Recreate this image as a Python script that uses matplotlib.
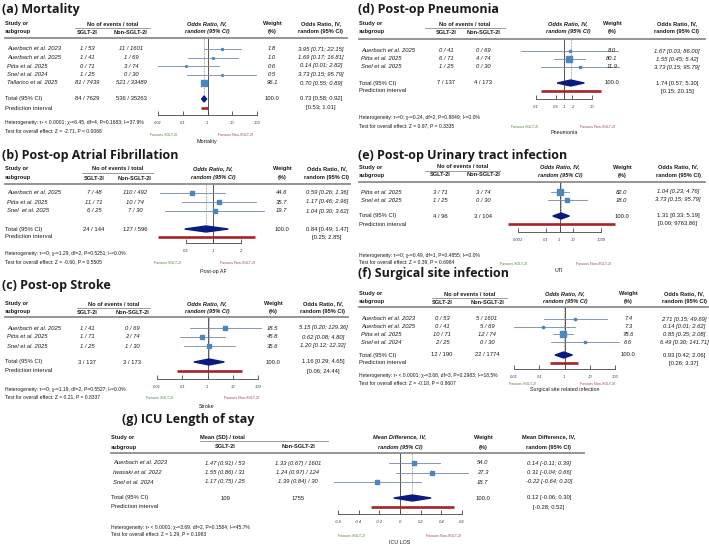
import matplotlib
matplotlib.use("Agg")
import matplotlib.pyplot as plt
from matplotlib.lines import Line2D
from matplotlib.ticker import NullLocator

W, H = 709, 551
FONT = "Liberation Sans"
TFONT = "Open Sans"

# ======================= DATA =======================
# (a) Mortality
a_study = ["Auerbach et al. 2023", "Auerbach et al. 2025", "Pitta et al. 2025", "Snel et al. 2024", "Tallarico et al. 2025"]
a_e1 = [1, 1, 0, 1, 81]
a_n1 = [53, 41, 71, 25, 7439]
a_e2 = [11, 1, 3, 0, 521]
a_n2 = [1601, 69, 74, 30, 33489]
a_w = [1.8, 1.0, 0.6, 0.5, 96.1]
a_or = [3.95, 1.69, 0.14, 3.73, 0.70]
a_lo = [0.71, 0.17, 0.01, 0.15, 0.55]
a_hi = [22.15, 16.81, 2.82, 95.79, 0.89]
a_total = [0.73, 0.58, 0.92]
a_pred = [0.53, 1.01]
a_het = "Heterogeneity: τ² < 0.0001; χ²=6.45, df=4, P=0.1683; I²=37.9%"
a_test = "Test for overall effect: Z = -2.71, P = 0.0068"
a_ticks = [0.01, 0.1, 1, 10, 100]
a_ticklabels = ["0.01", "0.1", "1", "10", "100"]
a_xlabel = "Mortality"

# (b) Post-op Atrial Fibrillation
b_study = ["Auerbach et al. 2025", "Pitta et al. 2025", "Snel  et al. 2025"]
b_e1 = [7, 11, 6]
b_n1 = [48, 71, 25]
b_e2 = [110, 10, 7]
b_n2 = [492, 74, 30]
b_w = [44.6, 35.7, 19.7]
b_or = [0.59, 1.17, 1.04]
b_lo = [0.26, 0.46, 0.30]
b_hi = [1.36, 2.96, 3.62]
b_total = [0.84, 0.49, 1.47]
b_pred = [0.25, 2.85]
b_het = "Heterogeneity: τ²=0; χ²=1.29, df=2, P=0.5251; I²=0.0%"
b_test = "Test for overall effect: Z = -0.60, P = 0.5505"
b_ticks = [0.5, 1, 2]
b_ticklabels = ["0.5", "1", "2"]
b_xlabel = "Post-op AF"

# (c) Post-op Stroke
c_study = ["Auerbach et al. 2025", "Pitta et al. 2025", "Snel et al. 2025"]
c_e1 = [1, 1, 1]
c_n1 = [41, 71, 25]
c_e2 = [0, 2, 1]
c_n2 = [69, 74, 30]
c_w = [18.5, 45.8, 35.6]
c_or = [5.15, 0.62, 1.20]
c_lo = [0.20, 0.08, 0.12]
c_hi = [129.36, 4.80, 12.32]
c_total = [1.16, 0.29, 4.65]
c_pred = [0.06, 24.44]
c_het = "Heterogeneity: τ²=0; χ²=1.19, df=2, P=0.5527; I²=0.0%"
c_test = "Test for overall effect: Z = 0.21, P = 0.8337"
c_ticks = [0.01, 0.1, 1, 10, 100]
c_ticklabels = ["0.01", "0.1", "1", "10", "100"]
c_xlabel = "Stroke"

# (d) Post-op Pneumonia
d_study = ["Auerbach et al. 2025", "Pitta et al. 2025", "Snel et al. 2025"]
d_e1 = [0, 6, 1]
d_n1 = [41, 71, 25]
d_e2 = [0, 4, 0]
d_n2 = [69, 74, 30]
d_w = [8.0, 80.1, 11.9]
d_or = [1.67, 1.55, 3.73]
d_lo = [0.03, 0.45, 0.15]
d_hi = [86.00, 5.42, 95.79]
d_total = [1.74, 0.57, 5.30]
d_pred = [0.15, 20.15]
d_het = "Heterogeneity: τ²=0; χ²=0.24, df=2, P=0.8849; I²=0.0%"
d_test = "Test for overall effect: Z = 0.97, P = 0.3335"
d_ticks = [0.1, 0.5, 1, 2, 10]
d_ticklabels = ["0.1", "0.5", "1", "2", "10"]
d_xlabel = "Pneumonia"

# (e) Post-op Urinary tract infection
e_study = ["Pitta et al. 2025", "Snel et al. 2025"]
e_e1 = [3, 1]
e_n1 = [71, 25]
e_e2 = [3, 0]
e_n2 = [74, 30]
e_w = [82.0, 18.0]
e_or = [1.04, 3.73]
e_lo = [0.23, 0.15]
e_hi = [4.76, 95.79]
e_total = [1.31, 0.33, 5.19]
e_pred = [0.00018, 9763.86]
e_het = "Heterogeneity: τ²=0; χ²=0.49, df=1, P=0.4855; I²=0.0%"
e_test = "Test for overall effect: Z = 0.39, P = 0.6984"
e_ticks = [0.001, 0.1, 1, 10, 1000]
e_ticklabels = ["0.001", "0.1", "1", "10", "1000"]
e_xlabel = "UTI"

# (f) Surgical site infection
f_study = ["Auerbach et al. 2023", "Auerbach et al. 2025", "Pitta et al. 2025", "Snel et al. 2024"]
f_e1 = [0, 0, 10, 2]
f_n1 = [53, 41, 71, 25]
f_e2 = [5, 5, 12, 0]
f_n2 = [1601, 69, 74, 30]
f_w = [7.4, 7.3, 78.6, 6.6]
f_or = [2.71, 0.14, 0.85, 6.49]
f_lo = [0.15, 0.01, 0.35, 0.30]
f_hi = [49.69, 2.62, 2.08, 141.71]
f_total = [0.93, 0.42, 2.06]
f_pred = [0.26, 3.37]
f_het = "Heterogeneity: τ² < 0.0001; χ²=3.68, df=3, P=0.2983; I²=18.5%"
f_test = "Test for overall effect: Z = -0.18, P = 0.8607"
f_ticks = [0.01, 0.1, 1, 10, 100]
f_ticklabels = ["0.01", "0.1", "1", "10", "100"]
f_xlabel = "Surgical site related infection"

# (g) ICU Length of stay
g_study = ["Auerbach et al. 2023", "Iwasaki et al. 2022", "Snel et al. 2024"]
g_m1 = [1.47, 1.55, 1.17]
g_sd1 = [0.91, 0.86, 0.75]
g_n1 = [53, 31, 25]
g_m2 = [1.33, 1.24, 1.39]
g_sd2 = [0.67, 0.97, 0.84]
g_n2 = [1601, 124, 30]
g_w = [54.0, 27.3, 18.7]
g_md = [0.14, 0.31, -0.22]
g_lo = [-0.11, -0.04, -0.64]
g_hi = [0.39, 0.66, 0.20]
g_total = [0.12, -0.06, 0.30]
g_pred = [-0.28, 0.52]
g_het = "Heterogeneity: τ² < 0.0001; χ²=3.69, df=2, P=0.1584; I²=45.7%"
g_test = "Test for overall effect: Z = 1.29, P = 0.1983"
g_ticks = [-0.6, -0.4, -0.2, 0, 0.2, 0.4, 0.6]
g_ticklabels = ["-0.6", "-0.4", "-0.2", "0", "0.2", "0.4", "0.6"]
g_xlabel = "ICU LOS"

TOTAL_WEIGHT = 100.0

# ======================= LAYOUT (reference pixels) =======================
La = dict(tx=2, ty=9, tha="left", xs=5, hy1=24, hy2=32, g0=75, g1=150, gha="center", x1=87, x2=131, xf=207, xw=272, xc=321,
          r0=5, r1=347, rule=38, y0=49, dy=8.5, toty=99, predy=108, fl=158.1, fr=256.9, axy=115,
          hety=123, testy=131, favy=135, fav1=164, fav2=236, xlx=207, xly=141)
Lb = dict(tx=2, ty=155, tha="left", xs=5, hy1=169, hy2=178, g0=82, g1=153, gha="center", x1=94, x2=135, xf=213, xw=282, xc=327,
          r0=5, r1=350, rule=184, y0=193, dy=9, toty=229, predy=237, fl=185.5, fr=240.5, axy=243,
          hety=254, testy=262, favy=263, fav1=168, fav2=237, xlx=213, xly=271)
Lc = dict(tx=2, ty=285, tha="left", xs=5, hy1=304, hy2=312, g0=77, g1=150, gha="center", x1=87, x2=132, xf=207, xw=273, xc=323,
          r0=5, r1=348, rule=317, y0=328, dy=9, toty=362, predy=371, fl=157.1, fr=257.9, axy=379,
          hety=389, testy=397, favy=398, fav1=160, fav2=241, xlx=207, xly=406)
Ld = dict(tx=358, ty=10, tha="left", xs=359, hy1=24, hy2=32, g0=425, g1=505, gha="center", x1=446, x2=483, xf=568, xw=612, xc=677,
          r0=359, r1=705, rule=39, y0=51, dy=8, toty=83, predy=91, fl=536, fr=592, axy=99,
          hety=118, testy=126, favy=127, fav1=525, fav2=598, xlx=564, xly=133)
Le = dict(tx=358, ty=155, tha="left", xs=359, hy1=167, hy2=175, g0=425, g1=500, gha="center", x1=440, x2=483, xf=560, xw=622, xc=678,
          r0=359, r1=705, rule=182, y0=192, dy=8, toty=216, predy=224, fl=518.1, fr=600.9, axy=232,
          hety=255, testy=262, favy=264, fav1=514, fav2=593, xlx=559, xly=270)
Lf = dict(tx=358, ty=273, tha="left", xs=359, hy1=294, hy2=302, g0=432, g1=507, gha="center", x1=442, x2=487, xf=565, xw=628, xc=684,
          r0=359, r1=708, rule=307, y0=319, dy=7.7, toty=355, predy=363, fl=514.1, fr=614.9, axy=369,
          hety=376, testy=383, favy=384, fav1=523, fav2=597, xlx=565, xly=390)
Lg = dict(tx=188, ty=420, tha="center", xs=111, hy1=437, hy2=447, g0=200, g1=328, gha="left", x1=225, x2=298, xf=400, xw=483, xc=549,
          r0=111, r1=584, rule=453, y0=463, dy=9.5, toty=498, predy=507, fl=337.9, fr=462.1, axy=514,
          hety=527, testy=534, favy=536, fav1=352, fav2=443, xlx=400, xly=543)

# ======================= STYLE =======================
C_TEXT = "#1a1a1a"
C_RULE = "#8c8c8c"
C_CI = "#7188ad"
C_MARK = "#4a86c0"
C_DIAM = "#0b1a7e"
C_PRED = "#a82228"
C_REF = "#555555"
C_POOL = "#b4b4b4"
C_FAV1 = "#4f7f3f"
C_FAV2 = "#a04060"
C_TICK = "#35356b"
S_ROW = 4.2
S_HDR = 4.1
S_HET = 3.6
S_FAV = 2.6
S_XLAB = 3.9
S_TICK = 3.0
S_TITLE = 9.0

fig = plt.figure(figsize=(W / 100, H / 100), dpi=100)
fig.patch.set_facecolor("white")


def fx(x):
    return x / W


def fy(y):
    return 1 - y / H


def txt(x, y, s, size=S_ROW, ha="left", weight="normal", style="normal", color=C_TEXT, family=FONT):
    fig.text(fx(x), fy(y), s, fontsize=size, ha=ha, va="center", fontweight=weight,
             fontstyle=style, color=color, family=family)


def hline(x0, x1, y, color=C_RULE, lw=1.0):
    fig.add_artist(Line2D([fx(x0), fx(x1)], [fy(y), fy(y)], color=color, lw=lw,
                          transform=fig.transFigure))


def ci_text(o, l, h):
    return f"{o:.2f} [{l:.2f}; {h:.2f}]"


def draw_panel(L, title, study, col1, col2, tot1, tot2, w, est, lo, hi, total, pred, het, test,
               ticks, ticklabels, xlabel, log=True, grp="No of events / total",
               fp=("Odds Ratio, IV,", "random (95% CI)")):
    # title
    txt(L["tx"], L["ty"], title, size=S_TITLE, weight="bold", family=TFONT, ha=L["tha"])
    # headers
    txt(L["xs"], L["hy1"], "Study or", size=S_HDR, weight="bold")
    txt(L["xs"], L["hy2"], "subgroup", size=S_HDR, weight="bold")
    gx = (L["g0"] + L["g1"]) / 2 if L["gha"] == "center" else L["g0"]
    txt(gx, L["hy1"], grp, size=S_HDR, weight="bold", ha=L["gha"])
    hline(L["g0"], L["g1"], L["hy1"] + 4, lw=0.6)
    txt(L["x1"], L["hy2"], "SGLT-2I", size=S_HDR, weight="bold", ha="center")
    txt(L["x2"], L["hy2"], "Non-SGLT-2I", size=S_HDR, weight="bold", ha="center")
    txt(L["xf"], L["hy1"], fp[0], size=S_HDR, weight="bold", style="italic", ha="center")
    txt(L["xf"], L["hy2"], fp[1], size=S_HDR, weight="bold", style="italic", ha="center")
    txt(L["xw"], L["hy1"], "Weight", size=S_HDR, weight="bold", ha="center")
    txt(L["xw"], L["hy2"], "(%)", size=S_HDR, weight="bold", ha="center")
    txt(L["xc"], L["hy1"], fp[0], size=S_HDR, weight="bold", ha="center")
    txt(L["xc"], L["hy2"], fp[1], size=S_HDR, weight="bold", ha="center")
    hline(L["r0"], L["r1"], L["rule"], lw=1.3)

    # forest axes: y data units equal reference pixel rows
    ax = fig.add_axes([fx(L["fl"]), fy(L["axy"]), (L["fr"] - L["fl"]) / W, (L["axy"] - L["rule"]) / H])
    if log:
        ax.set_xscale("log")
    ax.set_xlim(ticks[0], ticks[-1])
    ax.set_ylim(L["axy"], L["rule"])
    ax.patch.set_alpha(0)
    for s in ["top", "right", "left"]:
        ax.spines[s].set_visible(False)
    ax.spines["bottom"].set_color("#444444")
    ax.spines["bottom"].set_linewidth(0.6)
    ax.set_yticks([])
    ax.set_xticks(ticks)
    ax.set_xticklabels(ticklabels)
    ax.xaxis.set_minor_locator(NullLocator())
    ax.tick_params(axis="x", direction="in", length=3, width=0.6, color="#444444",
                   labelsize=S_TICK, pad=4, labelcolor=C_TICK)
    for lab in ax.get_xticklabels():
        lab.set_fontstyle("italic")
        lab.set_family(FONT)

    null = 0 if not log else 1
    ax.axvline(null, color=C_REF, lw=0.7, zorder=1)
    ax.plot([total[0], total[0]], [L["rule"], L["toty"]], color=C_POOL, lw=0.7,
            ls=(0, (2, 1)), zorder=1)

    for i, name in enumerate(study):
        y = L["y0"] + i * L["dy"]
        txt(L["xs"] + 2, y, name, style="italic")
        txt(L["x1"], y, col1[i], style="italic", ha="center")
        txt(L["x2"], y, col2[i], style="italic", ha="center")
        txt(L["xw"], y, f"{w[i]:.1f}", style="italic", ha="center")
        txt(L["xc"], y, ci_text(est[i], lo[i], hi[i]), style="italic", ha="center")
        ax.plot([lo[i], hi[i]], [y, y], color=C_CI, lw=0.6, clip_on=False, zorder=2)
        ax.plot([est[i]], [y], marker="s", ms=0.38 * w[i] ** 0.5 + 0.8, color=C_MARK,
                mec=C_MARK, clip_on=False, zorder=3)

    ty = L["toty"]
    txt(L["xs"], ty, "Total (95% CI)")
    txt(L["x1"], ty, tot1, ha="center")
    txt(L["x2"], ty, tot2, ha="center")
    txt(L["xw"], ty, f"{TOTAL_WEIGHT:.1f}", ha="center")
    txt(L["xc"], ty, ci_text(*total), ha="center")
    hh = 3.0
    ax.fill([total[1], total[0], total[2], total[0]], [ty, ty - hh, ty, ty + hh],
            color=C_DIAM, clip_on=False, zorder=3)

    py = L["predy"]
    txt(L["xs"], py, "Prediction interval")
    txt(L["xc"], py, f"[{pred[0]:.2f}; {pred[1]:.2f}]", ha="center")
    ax.plot([pred[0], pred[1]], [py, py], color=C_PRED, lw=1.9, solid_capstyle="butt",
            clip_on=False, zorder=3)

    txt(L["xs"], L["hety"], het, size=S_HET)
    txt(L["xs"], L["testy"], test, size=S_HET)
    txt(L["fav1"], L["favy"], "Favours SGLT-2I", size=S_FAV, color=C_FAV1, ha="center")
    txt(L["fav2"], L["favy"], "Favours Non-SGLT-2I", size=S_FAV, color=C_FAV2, ha="center")
    txt(L["xlx"], L["xly"], xlabel, size=S_XLAB, ha="center")


def ev(e, n):
    return [f"{a} / {b}" for a, b in zip(e, n)]


draw_panel(La, "(a) Mortality", a_study, ev(a_e1, a_n1), ev(a_e2, a_n2),
           f"{sum(a_e1)} / {sum(a_n1)}", f"{sum(a_e2)} / {sum(a_n2)}",
           a_w, a_or, a_lo, a_hi, a_total, a_pred, a_het, a_test, a_ticks, a_ticklabels, a_xlabel)
draw_panel(Lb, "(b) Post-op Atrial Fibrillation", b_study, ev(b_e1, b_n1), ev(b_e2, b_n2),
           f"{sum(b_e1)} / {sum(b_n1)}", f"{sum(b_e2)} / {sum(b_n2)}",
           b_w, b_or, b_lo, b_hi, b_total, b_pred, b_het, b_test, b_ticks, b_ticklabels, b_xlabel)
draw_panel(Lc, "(c) Post-op Stroke", c_study, ev(c_e1, c_n1), ev(c_e2, c_n2),
           f"{sum(c_e1)} / {sum(c_n1)}", f"{sum(c_e2)} / {sum(c_n2)}",
           c_w, c_or, c_lo, c_hi, c_total, c_pred, c_het, c_test, c_ticks, c_ticklabels, c_xlabel)
draw_panel(Ld, "(d) Post-op Pneumonia", d_study, ev(d_e1, d_n1), ev(d_e2, d_n2),
           f"{sum(d_e1)} / {sum(d_n1)}", f"{sum(d_e2)} / {sum(d_n2)}",
           d_w, d_or, d_lo, d_hi, d_total, d_pred, d_het, d_test, d_ticks, d_ticklabels, d_xlabel)
draw_panel(Le, "(e) Post-op Urinary tract infection", e_study, ev(e_e1, e_n1), ev(e_e2, e_n2),
           f"{sum(e_e1)} / {sum(e_n1)}", f"{sum(e_e2)} / {sum(e_n2)}",
           e_w, e_or, e_lo, e_hi, e_total, e_pred, e_het, e_test, e_ticks, e_ticklabels, e_xlabel)
draw_panel(Lf, "(f) Surgical site infection", f_study, ev(f_e1, f_n1), ev(f_e2, f_n2),
           f"{sum(f_e1)} / {sum(f_n1)}", f"{sum(f_e2)} / {sum(f_n2)}",
           f_w, f_or, f_lo, f_hi, f_total, f_pred, f_het, f_test, f_ticks, f_ticklabels, f_xlabel)

g_col1 = [f"{m:.2f} ({s:.2f}) / {n}" for m, s, n in zip(g_m1, g_sd1, g_n1)]
g_col2 = [f"{m:.2f} ({s:.2f}) / {n}" for m, s, n in zip(g_m2, g_sd2, g_n2)]
draw_panel(Lg, "(g) ICU Length of stay", g_study, g_col1, g_col2, f"{sum(g_n1)}", f"{sum(g_n2)}",
           g_w, g_md, g_lo, g_hi, g_total, g_pred, g_het, g_test, g_ticks, g_ticklabels, g_xlabel,
           log=False, grp="Mean (SD) / total", fp=("Mean Difference, IV,", "random (95% CI)"))

fig.savefig("out.png", dpi=100, facecolor="white")
